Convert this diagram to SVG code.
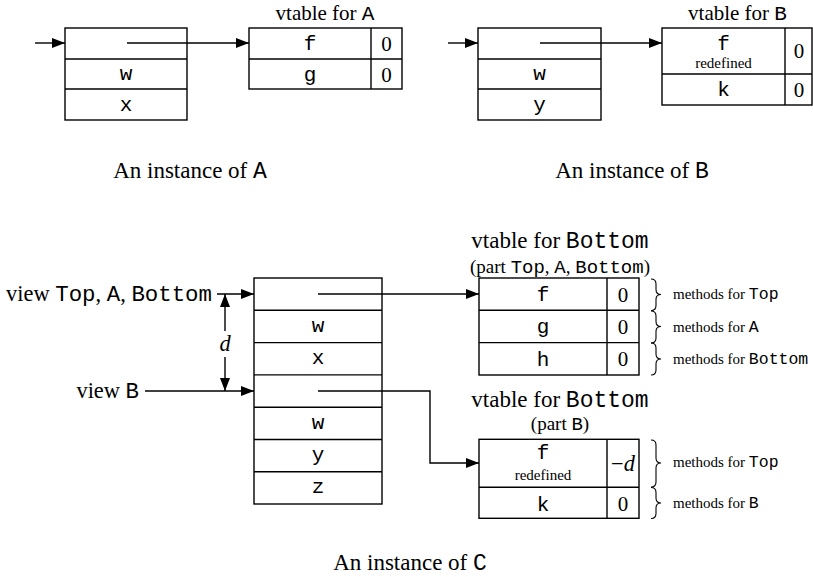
<svg xmlns="http://www.w3.org/2000/svg" width="813" height="577" viewBox="0 0 813 577">
<style>
.t{font-family:"Liberation Serif","Times New Roman",serif;font-size:21px;fill:#000}
.m{font-family:"Liberation Mono","Courier New",monospace}
.c{text-anchor:middle}
.big{font-size:23px}
.v{font-size:22.4px}
.p{font-size:19px}
.s{font-family:"Liberation Serif","Times New Roman",serif;font-size:15px;fill:#000}
.sm{font-family:"Liberation Mono","Courier New",monospace;font-size:16.5px}
.box{fill:none;stroke:#000;stroke-width:1.4}
.ln{fill:none;stroke:#000;stroke-width:1.4}
.br{fill:none;stroke:#000;stroke-width:1.1}
</style>
<defs>
<marker id="ah" markerUnits="userSpaceOnUse" markerWidth="13" markerHeight="10" refX="13" refY="5" orient="auto-start-reverse">
<path d="M0,0 L13,5 L0,10 z" fill="#000"/>
</marker>
</defs>
<rect width="813" height="577" fill="#fff"/>

<!-- Instance A -->
<g id="instA">
<rect class="box" x="65" y="28" width="122" height="92"/>
<line class="box" x1="65" y1="59" x2="187" y2="59"/>
<line class="box" x1="65" y1="89" x2="187" y2="89"/>
<text class="t m c" x="126" y="80">w</text>
<text class="t m c" x="126" y="111">x</text>
</g>
<g id="vtA">
<text class="t c" x="325" y="20">vtable for <tspan class="m">A</tspan></text>
<rect class="box" x="249" y="28" width="153" height="61"/>
<line class="box" x1="249" y1="59" x2="402" y2="59"/>
<line class="box" x1="371" y1="28" x2="371" y2="89"/>
<text class="t m c" x="310" y="50">f</text>
<text class="t c" x="386.5" y="51">0</text>
<text class="t m c" x="310" y="81">g</text>
<text class="t c" x="386.5" y="82">0</text>
</g>
<text class="t big c" x="190" y="178">An instance of <tspan class="m">A</tspan></text>

<!-- Instance B -->
<g id="instB">
<rect class="box" x="478" y="28" width="123" height="92"/>
<line class="box" x1="478" y1="59" x2="601" y2="59"/>
<line class="box" x1="478" y1="89" x2="601" y2="89"/>
<text class="t m c" x="539.5" y="80">w</text>
<text class="t m c" x="539.5" y="111">y</text>
</g>
<g id="vtB">
<text class="t c" x="737.5" y="20">vtable for <tspan class="m">B</tspan></text>
<rect class="box" x="662" y="28" width="150" height="77"/>
<line class="box" x1="662" y1="74" x2="812" y2="74"/>
<line class="box" x1="785" y1="28" x2="785" y2="105"/>
<text class="t m c" x="723.5" y="50">f</text>
<text class="s c" x="723.5" y="68">redefined</text>
<text class="t c" x="799" y="58">0</text>
<text class="t m c" x="723.5" y="96">k</text>
<text class="t c" x="799" y="97">0</text>
</g>
<text class="t big c" x="632" y="178">An instance of <tspan class="m">B</tspan></text>

<!-- Instance C -->
<g id="instC">
<rect class="box" x="254" y="278" width="128" height="226"/>
<line class="box" x1="254" y1="310.3" x2="382" y2="310.3"/>
<line class="box" x1="254" y1="342.6" x2="382" y2="342.6"/>
<line class="box" x1="254" y1="374.9" x2="382" y2="374.9"/>
<line class="box" x1="254" y1="407.2" x2="382" y2="407.2"/>
<line class="box" x1="254" y1="439.5" x2="382" y2="439.5"/>
<line class="box" x1="254" y1="471.8" x2="382" y2="471.8"/>
<text class="t m c" x="318" y="332">w</text>
<text class="t m c" x="318" y="364">x</text>
<text class="t m c" x="318" y="429">w</text>
<text class="t m c" x="318" y="461">y</text>
<text class="t m c" x="318" y="493">z</text>
</g>
<g id="labels">
<text class="t v" x="212" y="301" text-anchor="end">view <tspan class="m">Top</tspan>, <tspan class="m">A</tspan>, <tspan class="m">Bottom</tspan></text>
<text class="t v" x="139" y="398" text-anchor="end">view <tspan class="m">B</tspan></text>
<text class="t v c" x="225" y="351" font-style="italic">d</text>
</g>
<g id="vtC1">
<text class="t big c" x="560" y="248">vtable for <tspan class="m">Bottom</tspan></text>
<text class="t p c" x="560" y="273">(part <tspan class="m">Top</tspan>, <tspan class="m">A</tspan>, <tspan class="m">Bottom</tspan>)</text>
<rect class="box" x="479" y="278" width="160" height="97"/>
<line class="box" x1="479" y1="310.3" x2="639" y2="310.3"/>
<line class="box" x1="479" y1="342.6" x2="639" y2="342.6"/>
<line class="box" x1="607" y1="278" x2="607" y2="375"/>
<text class="t m c" x="543" y="301">f</text>
<text class="t c" x="623" y="302">0</text>
<text class="t m c" x="543" y="333">g</text>
<text class="t c" x="623" y="334">0</text>
<text class="t m c" x="543" y="366">h</text>
<text class="t c" x="623" y="366">0</text>
<path class="br" d="M651,279 Q656,279 656,284 L656,289.5 Q656,294.5 661,294.5 Q656,294.5 656,299.5 L656,305.5 Q656,310.5 651,310.5"/>
<path class="br" d="M651,311 Q656,311 656,316 L656,321.5 Q656,326.5 661,326.5 Q656,326.5 656,331.5 L656,338 Q656,343 651,343"/>
<path class="br" d="M651,343 Q656,343 656,348 L656,354 Q656,359 661,359 Q656,359 656,364 L656,370 Q656,375 651,375"/>
<text class="s" x="673" y="299">methods for <tspan class="sm">Top</tspan></text>
<text class="s" x="673" y="331.5">methods for <tspan class="sm">A</tspan></text>
<text class="s" x="673" y="364">methods for <tspan class="sm">Bottom</tspan></text>
</g>
<g id="vtC2">
<text class="t big c" x="560" y="407">vtable for <tspan class="m">Bottom</tspan></text>
<text class="t p c" x="560" y="430">(part <tspan class="m">B</tspan>)</text>
<rect class="box" x="479" y="439.3" width="160" height="79"/>
<line class="box" x1="479" y1="487.3" x2="639" y2="487.3"/>
<line class="box" x1="607" y1="439.3" x2="607" y2="518.3"/>
<text class="t m c" x="543" y="459">f</text>
<text class="s c" x="543" y="480">redefined</text>
<text class="t v c" x="623" y="471"><tspan>−</tspan><tspan font-style="italic">d</tspan></text>
<text class="t m c" x="543" y="511">k</text>
<text class="t c" x="623" y="511">0</text>
<path class="br" d="M651,440 Q656,440 656,445 L656,458 Q656,463 661,463 Q656,463 656,468 L656,482 Q656,487 651,487"/>
<path class="br" d="M651,487.5 Q656,487.5 656,492.5 L656,498 Q656,503 661,503 Q656,503 656,508 L656,513.5 Q656,518.5 651,518.5"/>
<text class="s" x="673" y="467">methods for <tspan class="sm">Top</tspan></text>
<text class="s" x="673" y="508">methods for <tspan class="sm">B</tspan></text>
</g>
<text class="t big c" x="410" y="570">An instance of <tspan class="m">C</tspan></text>

<!-- Connectors -->
<g id="connectors">
<line class="ln" x1="35" y1="43" x2="65" y2="43" marker-end="url(#ah)"/>
<line class="ln" x1="127" y1="43" x2="249" y2="43" marker-end="url(#ah)"/>
<line class="ln" x1="448" y1="43" x2="478" y2="43" marker-end="url(#ah)"/>
<line class="ln" x1="540" y1="43" x2="662" y2="43" marker-end="url(#ah)"/>
<line class="ln" x1="217" y1="294" x2="254" y2="294" marker-end="url(#ah)"/>
<line class="ln" x1="145" y1="391" x2="254" y2="391" marker-end="url(#ah)"/>
<line class="ln" x1="225" y1="294" x2="225" y2="331" marker-start="url(#ah)"/>
<line class="ln" x1="225" y1="357" x2="225" y2="391" marker-end="url(#ah)"/>
<line class="ln" x1="318" y1="294" x2="479" y2="294" marker-end="url(#ah)"/>
<polyline class="ln" points="318,391 430,391 430,463 479,463" marker-end="url(#ah)"/>
</g>
</svg>
